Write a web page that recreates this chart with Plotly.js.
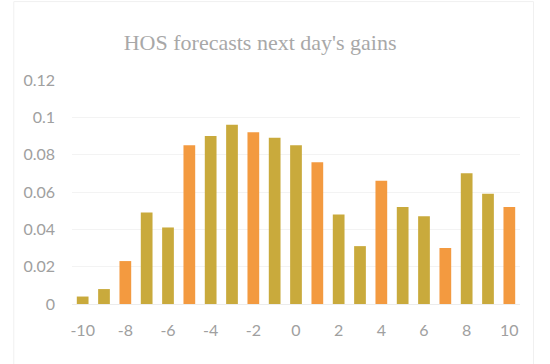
<!DOCTYPE html>
<html>
<head>
<meta charset="utf-8">
<script src="https://cdn.plot.ly/plotly-3.0.1.min.js"></script>
<style>
  html, body { margin: 0; padding: 0; background: #fff; }
  #chart { width: 550px; height: 364px; }
</style>
</head>
<body>
<div id="chart"></div>
<script>
// days relative to today
const days = [-10, -9, -8, -7, -6, -5, -4, -3, -2, -1, 0, 1, 2, 3, 4, 5, 6, 7, 8, 9, 10];

// share of forecasts per day
const gains = [0.004, 0.008, 0.023, 0.049, 0.041, 0.085, 0.090, 0.096, 0.092, 0.089,
               0.085, 0.076, 0.048, 0.031, 0.066, 0.052, 0.047, 0.030, 0.070, 0.059, 0.052];

const olive = "#c9aa3c";
const orange = "#f39a40";
const barColors = days.map((d, i) => (i % 3 === 2 ? orange : olive));

const xTicks = [-10, -8, -6, -4, -2, 0, 2, 4, 6, 8, 10];
const yTicks = [0, 0.02, 0.04, 0.06, 0.08, 0.1, 0.12];

const bars = {
    x: days,
    y: gains,
    type: "bar",
    width: 0.55,
    marker: { color: barColors },
    hoverinfo: "x+y",
};

const layout = {
    width: 550,
    height: 364,
    margin: { l: 72, r: 30, t: 80, b: 60 },
    paper_bgcolor: "#ffffff",
    plot_bgcolor: "#ffffff",
    showlegend: false,
    title: {
        text: "HOS forecasts next day's gains",
        font: { family: "Liberation Serif, serif", size: 22, color: "#a8a8a8" },
        x: 0.473,
        xanchor: "center",
        y: 0.885,
        yanchor: "middle",
    },
    xaxis: {
        range: [-10.5, 10.5],
        tickvals: xTicks,
        ticktext: xTicks.map(String),
        showgrid: false,
        zeroline: false,
        showline: true,
        linecolor: "#ececec",
        linewidth: 1,
        ticks: "",
        ticklabelstandoff: 12,
        tickfont: { family: "Lato, Open Sans, sans-serif", size: 16, color: "#a0a0a0" },
        fixedrange: true,
    },
    yaxis: {
        range: [0, 0.12],
        tickvals: yTicks,
        ticktext: yTicks.map(v => String(v)),
        showgrid: true,
        gridcolor: "#f3f3f3",
        zeroline: false,
        showline: false,
        ticks: "",
        ticklabelstandoff: 16,
        tickfont: { family: "Lato, Open Sans, sans-serif", size: 16, color: "#a0a0a0" },
        fixedrange: true,
    },
    shapes: [{
        type: "rect",
        xref: "paper", yref: "paper",
        x0: -0.13, x1: 1.03, y0: -0.3, y1: 1.35,
        line: { color: "#f0f0f0", width: 1 },
        layer: "below",
    }],
};

Plotly.newPlot("chart", [bars], layout, { displayModeBar: false, staticPlot: true });
</script>
</body>
</html>
